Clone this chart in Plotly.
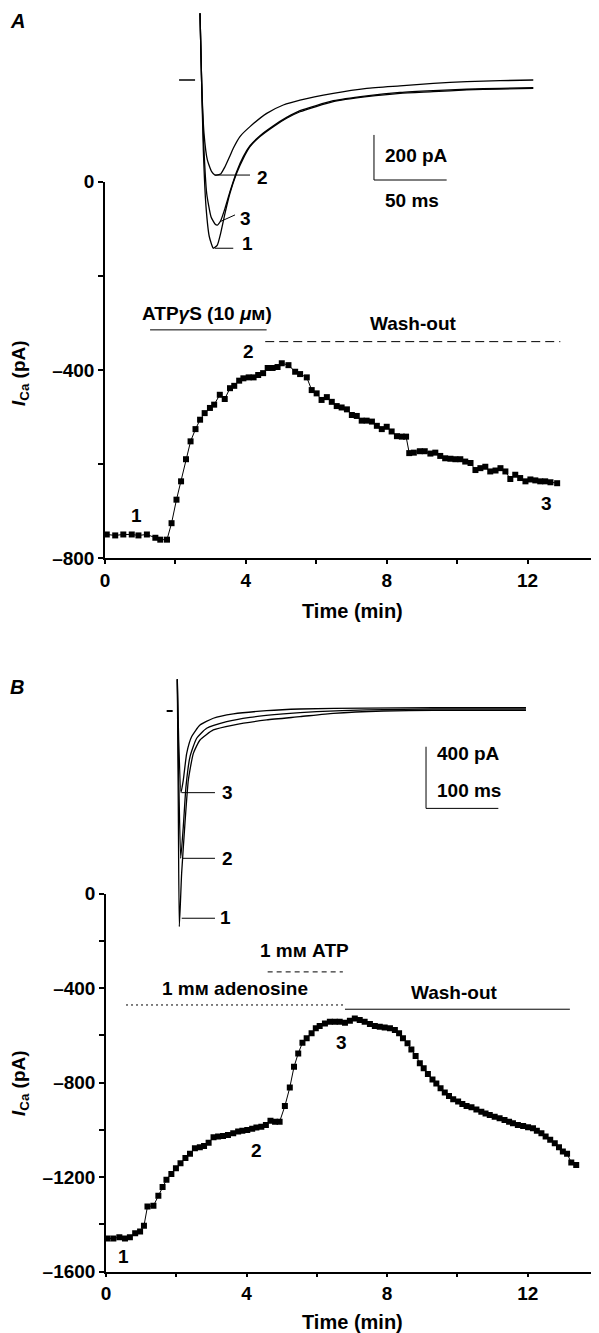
import plotly.graph_objects as go

W, H = 599, 1333
OFF = 8  # the page body margin shifts the figure by 8 px

# ---- Panel A: time course of I_Ca (min, pA) ----
a_time = [0.05, 0.29, 0.52, 0.76, 0.95, 1.19, 1.43, 1.57, 1.76, 1.89,
          2.03, 2.16, 2.30, 2.43, 2.57, 2.70, 2.83, 2.98, 3.10, 3.26,
          3.40, 3.55, 3.67, 3.81, 3.93, 4.08, 4.22, 4.35, 4.49, 4.62,
          4.76, 4.90, 5.02, 5.21, 5.40, 5.54, 5.73, 5.87, 6.01, 6.15,
          6.30, 6.44, 6.58, 6.72, 6.87, 7.01, 7.15, 7.29, 7.43, 7.58,
          7.72, 7.86, 8.00, 8.14, 8.29, 8.43, 8.55, 8.64, 8.77, 8.94,
          9.08, 9.24, 9.38, 9.52, 9.66, 9.81, 9.95, 10.09, 10.23, 10.38,
          10.52, 10.66, 10.80, 10.94, 11.09, 11.23, 11.37, 11.51, 11.65, 11.79,
          11.94, 12.08, 12.22, 12.36, 12.50, 12.65, 12.84]
a_ica = [-750, -752, -750, -750, -752, -750, -757, -761, -761, -726,
         -676, -637, -590, -552, -526, -506, -492, -481, -474, -453,
         -462, -439, -434, -423, -418, -416, -416, -411, -407, -396,
         -396, -394, -386, -390, -404, -409, -416, -443, -450, -464,
         -458, -468, -477, -480, -484, -496, -498, -508, -508, -510,
         -519, -526, -521, -531, -541, -542, -542, -577, -576, -573,
         -573, -578, -576, -583, -588, -589, -590, -590, -595, -598,
         -613, -609, -606, -616, -614, -609, -616, -632, -623, -630,
         -637, -633, -635, -637, -637, -639, -641]

# Panel A inset current traces (ms, pA)
a1_ms = [0, 1.15, 2.29, 4.13, 6.42, 9.17, 11.9, 14.2, 17.2, 20.6, 25.2, 29.8, 34.4,
         41.3, 50.5, 59.6, 68.8, 91.7, 114.7, 137.6, 160.5, 183.5, 206.4, 229.3]
a1_pa = [296, -15, -311, -562, -696, -747, -733, -681, -592, -503, -414, -348, -296,
         -251, -207, -170, -141, -96, -74, -59, -52, -44, -40, -37]
a2_ms = [0, 1.15, 2.75, 5.05, 8.03, 10.3, 14.2, 17.2, 20.6, 22.9, 27.5, 34.4,
         45.9, 57.3, 68.8, 91.7, 114.7, 137.6, 160.5, 183.5, 206.4, 229.3]
a2_pa = [296, -15, -237, -355, -407, -422, -417, -385, -337, -303, -251, -207,
         -148, -111, -89, -59, -37, -26, -15, -7, -3, 0]
a3_ms = [0, 1.15, 2.52, 4.59, 7.57, 10.3, 11.9, 14.2, 17.2, 20.6, 25.2, 29.8, 34.4,
         41.3, 50.5, 59.6, 68.8, 91.7, 114.7, 137.6, 160.5, 183.5, 206.4, 229.3]
a3_pa = [296, -15, -281, -503, -607, -639, -644, -625, -570, -496, -407, -340, -292,
         -247, -203, -166, -136, -92, -70, -55, -47, -41, -37, -34]

# ---- Panel B: time course of I_Ca (min, pA) ----
b_time = [0.04, 0.21, 0.38, 0.54, 0.68, 0.83, 0.97, 1.08, 1.18, 1.35,
          1.49, 1.61, 1.72, 1.86, 1.99, 2.12, 2.26, 2.39, 2.53, 2.67,
          2.79, 2.92, 3.06, 3.19, 3.33, 3.47, 3.62, 3.76, 3.88, 4.02,
          4.16, 4.28, 4.42, 4.55, 4.68, 4.81, 4.94, 5.09, 5.23, 5.35,
          5.47, 5.59, 5.71, 5.85, 5.97, 6.08, 6.23, 6.37, 6.51, 6.65,
          6.80, 6.94, 7.08, 7.22, 7.36, 7.51, 7.65, 7.79, 7.93, 8.08,
          8.22, 8.34, 8.45, 8.58, 8.69, 8.81, 8.93, 9.04, 9.16, 9.29,
          9.40, 9.52, 9.64, 9.76, 9.88, 10.02, 10.14, 10.26, 10.40, 10.54,
          10.68, 10.80, 10.92, 11.06, 11.20, 11.34, 11.47, 11.58, 11.72, 11.87,
          12.01, 12.15, 12.26, 12.39, 12.51, 12.64, 12.77, 12.89, 13.00, 13.12,
          13.24, 13.38]
b_ica = [-1459, -1459, -1454, -1459, -1454, -1437, -1430, -1406, -1324, -1321,
         -1279, -1242, -1211, -1186, -1162, -1141, -1119, -1101, -1077, -1073,
         -1068, -1054, -1031, -1028, -1026, -1021, -1014, -1007, -1003, -1000,
         -995, -990, -986, -979, -961, -965, -965, -899, -820, -733,
         -676, -631, -612, -591, -570, -560, -549, -542, -542, -542,
         -546, -538, -528, -535, -542, -552, -560, -563, -566, -570,
         -577, -591, -612, -633, -659, -687, -718, -739, -763, -786,
         -803, -824, -842, -856, -870, -880, -890, -899, -904, -913,
         -923, -930, -937, -944, -951, -958, -965, -972, -979, -983,
         -989, -993, -1003, -1014, -1028, -1042, -1056, -1073, -1091, -1101,
         -1138, -1148]

# Panel B inset current traces (ms, pA)
b1_ms = [0, 1.4, 2.8, 6.0, 10.6, 15.3, 22.2, 31.4, 49.8, 77.5, 123.6, 169.7,
         215.8, 284.9, 354.1, 482.2]
b1_pa = [206, -621, -1399, -1053, -729, -448, -275, -188, -123, -91, -58, -37,
         -15, 0, 4, 4]
b2_ms = [0, 1.9, 4.7, 8.3, 12.0, 17.6, 26.8, 40.6, 68.3, 100.5, 146.6, 192.7,
         261.9, 354.1, 482.2]
b2_pa = [206, -404, -956, -751, -491, -296, -177, -112, -69, -41, -19, -4,
         7, 13, 13]
b3_ms = [0, 1.9, 5.1, 8.3, 13.0, 19.9, 31.4, 49.8, 77.5, 123.6, 169.7, 261.9,
         354.1, 482.2]
b3_pa = [206, -188, -530, -448, -275, -166, -91, -47, -19, 2, 13, 19, 22, 22]

x_ticks = [0, 4, 8, 12]
x_labels = ["0", "4", "8", "12"]
a_yticks = [0, -400, -800]
a_ylabels = ["0", "–400", "–800"]
b_yticks = [0, -400, -800, -1200, -1600]
b_ylabels = ["0", "–400", "–800", "–1200", "–1600"]

FONT = dict(family="Arial", size=19, color="black", weight="bold")


# page pixel -> paper fraction (figure sits OFF px down/right in the page)
def px(p):
    return (p - OFF) / W


def py(p):
    return (H - (p - OFF)) / H


def xdom(p0, p1):
    return [px(p0), px(p1)]


def ydom(top, bottom):
    return [py(bottom), py(top)]


# inset scale: page pixel of t=0 / I=0 and units per pixel
def inset_range(p0, p1, origin, per_px, flip=False):
    a, b = (p0 - origin) * per_px, (p1 - origin) * per_px
    return [-b, -a] if flip else [a, b]


fig = go.Figure()

mk = dict(symbol="square", size=6, color="black")
ln = dict(color="black", width=1)
fig.add_trace(go.Scatter(x=a_time, y=a_ica, mode="lines+markers", marker=mk,
                         line=ln, xaxis="x", yaxis="y"))
fig.add_trace(go.Scatter(x=b_time, y=b_ica, mode="lines+markers", marker=mk,
                         line=ln, xaxis="x3", yaxis="y3"))

tr = dict(color="black", width=1.3, shape="spline", smoothing=0.5)
for xs, ys in [(a1_ms, a1_pa), (a2_ms, a2_pa), (a3_ms, a3_pa)]:
    fig.add_trace(go.Scatter(x=xs, y=ys, mode="lines", line=tr,
                             xaxis="x2", yaxis="y2"))
for xs, ys in [(b1_ms, b1_pa), (b2_ms, b2_pa), (b3_ms, b3_pa)]:
    fig.add_trace(go.Scatter(x=xs, y=ys, mode="lines", line=tr,
                             xaxis="x4", yaxis="y4"))

main_x = dict(range=[0, 14], showline=True, linecolor="black", linewidth=1.5,
              ticks="outside", ticklen=4, tickwidth=1.5, tickcolor="black",
              tickvals=x_ticks, ticktext=x_labels, showgrid=False,
              zeroline=False, tickfont=FONT, automargin=False,
              minor=dict(ticks="outside", ticklen=4, tickwidth=1.5,
                         tickcolor="black", tick0=0, dtick=2, showgrid=False))
main_y = dict(showline=True, linecolor="black", linewidth=1.5,
              ticks="outside", ticklen=5, tickwidth=1.5, tickcolor="black",
              showgrid=False, zeroline=False, tickfont=FONT, automargin=False,
              minor=dict(ticks="outside", ticklen=5, tickwidth=1.5,
                         tickcolor="black", tick0=0, dtick=200, showgrid=False))
hidden = dict(visible=False, showgrid=False, zeroline=False, automargin=False)

fig.update_layout(
    template="none",
    width=W, height=H, margin=dict(l=0, r=0, t=0, b=0, pad=0), autosize=False,
    paper_bgcolor="white", plot_bgcolor="rgba(0,0,0,0)", showlegend=False,
    xaxis=dict(main_x, domain=xdom(105, 598), anchor="y"),
    yaxis=dict(main_y, domain=ydom(181.7, 558), range=[-800, 0],
               tickvals=a_yticks, ticktext=a_ylabels, anchor="x"),
    xaxis3=dict(main_x, domain=xdom(106, 598), anchor="y3"),
    yaxis3=dict(main_y, domain=ydom(893.7, 1271.7), range=[-1600, 0],
                tickvals=b_yticks, ticktext=b_ylabels, anchor="x3"),
    xaxis2=dict(hidden, domain=xdom(170, 560), anchor="y2",
                range=inset_range(170, 560, 200, 0.688)),
    yaxis2=dict(hidden, domain=ydom(OFF, 260), anchor="x2",
                range=inset_range(OFF, 260, 80, 4.44, flip=True)),
    xaxis4=dict(hidden, domain=xdom(150, 560), anchor="y4",
                range=inset_range(150, 560, 177.3, 1.383)),
    yaxis4=dict(hidden, domain=ydom(660, 940), anchor="x4",
                range=inset_range(660, 940, 711, 6.49, flip=True)),
)


def seg(x0, y0, x1, y1, xr, yr, width=1, dash="solid"):
    fig.add_shape(type="line", x0=x0, y0=y0, x1=x1, y1=y1, xref=xr, yref=yr,
                  line=dict(color="black", width=width, dash=dash))


def label(text, x, y, xr, yr, size=19, xanchor="center", **kw):
    fig.add_annotation(text=text, x=x, y=y, xref=xr, yref=yr, showarrow=False,
                       xanchor=xanchor, yanchor="middle",
                       font=dict(FONT, size=size), **kw)


# Panel A main annotations
seg(1.28, -315, 4.59, -315, "x", "y")
seg(4.55, -340, 12.93, -340, "x", "y", dash="9px,5px")
label("ATP<i>γ</i>S (10 <i>μ</i>м)", 2.89, -280, "x", "y")
label("Wash-out", 8.76, -301, "x", "y")
label("1", 0.9, -709, "x", "y")
label("2", 4.07, -361, "x", "y")
label("3", 12.55, -684, "x", "y")

# Panel A inset: zero marker, scale bar, trace labels
seg(-14.4, 0, -3.4, 0, "x2", "y2", width=1.5)
seg(119.7, -244, 119.7, -444, "x2", "y2")
seg(119.7, -444, 169.7, -444, "x2", "y2")
label("200 pA", 126, -333, "x2", "y2", xanchor="left")
label("50 ms", 126, -533, "x2", "y2", xanchor="left")
seg(10.3, -422, 34.4, -422, "x2", "y2")
seg(13.8, -629, 24.1, -599, "x2", "y2")
seg(10.3, -747, 22.9, -747, "x2", "y2")
label("2", 43.3, -431, "x2", "y2")
label("3", 31, -613, "x2", "y2")
label("1", 33, -724, "x2", "y2")

# Panel B main annotations
seg(4.6, -331, 6.74, -331, "x3", "y3", dash="5px,4px")
seg(0.57, -471, 6.8, -471, "x3", "y3", dash="2px,3px")
seg(6.8, -489, 13.2, -489, "x3", "y3")
label("1 mм ATP", 5.64, -240, "x3", "y3")
label("1 mм adenosine", 3.66, -402, "x3", "y3")
label("Wash-out", 9.92, -418, "x3", "y3")
label("1", 0.49, -1537, "x3", "y3")
label("2", 4.28, -1088, "x3", "y3")
label("3", 6.70, -631, "x3", "y3")

# Panel B inset: zero marker, scale bar, trace labels
seg(-14.7, 0, -6.4, 0, "x4", "y4", width=2)
seg(344, -232, 344, -632, "x4", "y4")
seg(344, -632, 444, -632, "x4", "y4")
label("400 pA", 356, -273, "x4", "y4", xanchor="left")
label("100 ms", 356, -513, "x4", "y4", xanchor="left")
seg(6.1, -530, 52.1, -530, "x4", "y4")
seg(6.5, -956, 52.1, -956, "x4", "y4")
seg(6.1, -1345, 52.1, -1345, "x4", "y4")
label("3", 70.1, -526, "x4", "y4")
label("2", 70.1, -960, "x4", "y4")
label("1", 66, -1343, "x4", "y4")

# Axis titles and panel letters in page coordinates
for yc in [373, 1083]:
    label("<i>I</i><sub>Ca</sub> (pA)", px(20), py(yc), "paper", "paper",
          textangle=-90)
label("Time (min)", px(352), py(611), "paper", "paper", size=20)
label("Time (min)", px(352), py(1322), "paper", "paper", size=20)
label("<i>A</i>", px(17), py(21), "paper", "paper", size=20)
label("<i>B</i>", px(17), py(687), "paper", "paper", size=20)

fig.write_html("out.html")
